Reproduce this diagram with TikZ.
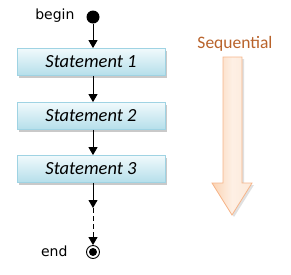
\documentclass[tikz,border=0pt]{standalone}
\usepackage{fontspec}
\setmainfont{Carlito}
\newfontfamily\lblfont{DejaVu Sans}
\usetikzlibrary{arrows.meta,shadows}
\definecolor{boxtop}{HTML}{F0F9FC}
\definecolor{boxbot}{HTML}{B5DFEA}
\definecolor{boxline}{HTML}{9FD3E3}
\definecolor{seqtext}{HTML}{B8622A}
\definecolor{bigfill}{HTML}{FBD3B3}
\definecolor{bigline}{HTML}{F6B58A}
\tikzset{
  stmt/.style={rectangle, minimum width=148pt, minimum height=27pt, draw=boxline, line width=0.8pt,
    top color=boxtop, bottom color=boxbot, font=\fontsize{18.5}{20}\selectfont\itshape,
    drop shadow={shadow xshift=2pt, shadow yshift=-2pt, fill=gray!60, opacity=0.7}},
  flow/.style={-{Triangle[length=8pt,width=9pt]}, line width=0.9pt},
  lbl/.style={font=\lblfont\fontsize{14}{16}\selectfont}
}
\begin{document}
\begin{tikzpicture}[x=1pt,y=-1pt]
\useasboundingbox (0,0) rectangle (291,274);
\node[circle, fill=black, minimum size=13pt, inner sep=0pt] (b) at (93,17) {};
\node[lbl, anchor=east] (bl) at (78,16) {begin};
\node[stmt] (s1) at (91,62) {Statement 1};
\node[stmt] (s2) at (91,116) {Statement 2};
\node[stmt] (s3) at (91,169) {Statement 3};
\coordinate (m) at (93,208);
\node[circle, draw=black, line width=0.9pt, minimum size=13pt, inner sep=0pt] (e) at (93,252) {};
\fill (e.center) circle (4pt);
\node[lbl, anchor=east] (el) at (71,251) {end};
\draw[flow] (b) -- (s1.north -| b);
\draw[flow] (s1.south -| b) -- (s2.north -| b);
\draw[flow] (s2.south -| b) -- (s3.north -| b);
\draw[flow] (s3.south -| b) -- (m);
\draw[flow, dash pattern=on 5pt off 3pt] (m) -- (e);
\node[font=\fontsize{17.5}{19}\selectfont, text=seqtext] (seq) at (235,44) {Sequential};
\begin{scope}
\path[fill=gray!40, opacity=0.6, shift={(2,2)}] (223,57) -- (242,57) -- (242,183) -- (252,183) -- (232,215) -- (212,183) -- (223,183) -- cycle;
\path[draw=bigline, line width=0.8pt, left color=bigfill, right color=bigfill!50!white, middle color=bigfill!35!white]
  (223,57) -- (242,57) -- (242,183) -- (252,183) -- (232,215) -- (212,183) -- (223,183) -- cycle;
\end{scope}
\end{tikzpicture}
\end{document}
